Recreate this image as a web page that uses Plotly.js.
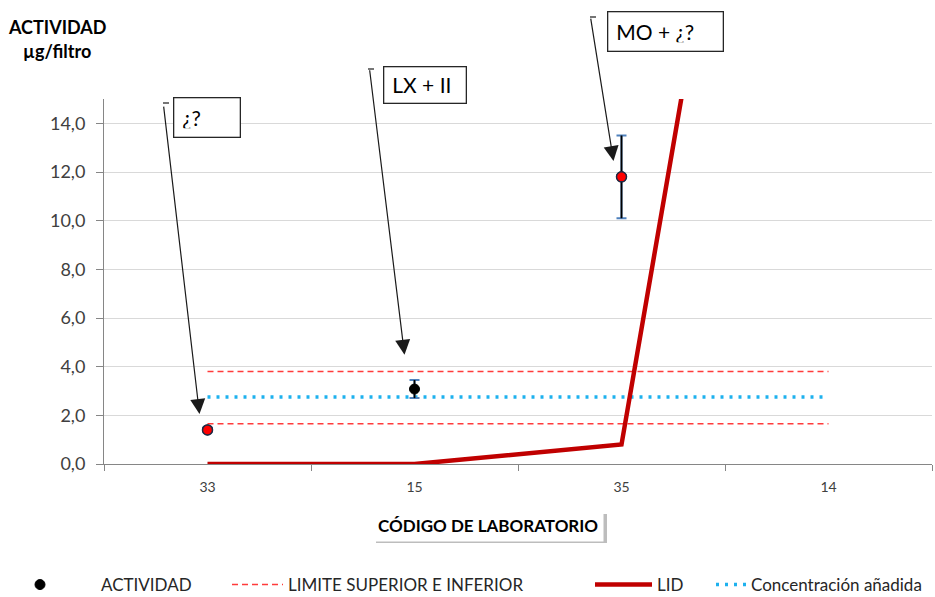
<!DOCTYPE html>
<html><head><meta charset="utf-8">
<script src="https://cdn.plot.ly/plotly-3.0.1.min.js"></script>
<style>body{margin:0;background:#fff}#chart{width:935px;height:597px}</style>
</head><body><div id="chart"></div>
<script>
// ---- data ----
const categories = ['33', '15', '35', '14'];
const actividad = [1.4, 3.08, 11.8, null];
const errorActividad = [0.1, 0.37, 1.7, null];
const limiteSuperior = [3.8, 3.8, 3.8, 3.8];
const limiteInferior = [1.65, 1.65, 1.65, 1.65];
const concentracion = [2.75, 2.75, 2.75, 2.75];
const lid = [0, 0, 0.8, 50];
const yTicks = [0, 2, 4, 6, 8, 10, 12, 14];
const seriesNames = ['ACTIVIDAD', 'LIMITE SUPERIOR E INFERIOR', 'LID', 'Concentración añadida'];
const notes = ['¿?', 'LX + II', 'MO + ¿?'];
const noteTargets = [['33', 2.05], ['15', 4.49], ['35', 12.45]];
const yTitle = ['ACTIVIDAD', 'µg/filtro'];
const xTitle = 'CÓDIGO DE LABORATORIO';

// ---- geometry helpers (layout only) ----
const W = 935, H = 597;
const M = {l: 104, r: 3, t: 99, b: 133, autoexpand: false};
const PW = W - M.l - M.r, PH = H - M.t - M.b;
const px = x => (x - M.l) / PW;
const py = y => (H - M.b - y) / PH;
const FONT = 'Lato, "Open Sans", sans-serif';

// points outside the limits are drawn red
const fuera = actividad.map((v, i) => (v != null && (v < limiteInferior[i] || v > limiteSuperior[i])) ? v : null);

const traces = [
  { // limits (upper + lower in one trace)
    x: categories.concat([null], categories),
    y: limiteSuperior.concat([null], limiteInferior),
    type: 'scatter', mode: 'lines', name: seriesNames[1], legend: 'legend2',
    connectgaps: false,
    line: {color: '#FF3B3B', width: 1.5, dash: '6px,4px'}
  },
  {
    x: categories, y: concentracion, type: 'scatter', mode: 'lines',
    name: seriesNames[3], legend: 'legend4',
    line: {color: '#1EB1EE', width: 3.5, dash: '3px,6px'}
  },
  {
    x: categories, y: lid, type: 'scatter', mode: 'lines',
    name: seriesNames[2], legend: 'legend3',
    line: {color: '#C00000', width: 4.5}
  },
  { // blue caps of the error bars
    x: categories, y: actividad, type: 'scatter', mode: 'markers', showlegend: false,
    marker: {size: 1, opacity: 0},
    error_y: {type: 'data', array: errorActividad, visible: true, color: '#4F81BD', thickness: 2, width: 5}
  },
  { // black stem of the error bars
    x: categories, y: actividad, type: 'scatter', mode: 'markers', showlegend: false,
    marker: {size: 1, opacity: 0},
    error_y: {type: 'data', array: errorActividad, visible: true, color: '#000000', thickness: 1.8, width: 0}
  },
  {
    x: categories, y: actividad, type: 'scatter', mode: 'markers',
    name: seriesNames[0], legend: 'legend',
    marker: {size: 10, color: '#000000', line: {color: '#000000', width: 1}}
  },
  {
    x: categories, y: fuera, type: 'scatter', mode: 'markers', showlegend: false,
    marker: {size: 10, color: '#FF0000', line: {color: '#1F2A44', width: 1.5}}
  }
];

const annotations = [];
// Y title (top-left)
annotations.push({xref: 'paper', yref: 'paper', x: px(57), y: py(27), xanchor: 'center', yanchor: 'middle',
  text: '<b>' + yTitle[0] + '</b>', showarrow: false, font: {family: FONT, size: 18, color: '#000'}});
annotations.push({xref: 'paper', yref: 'paper', x: px(57), y: py(51), xanchor: 'center', yanchor: 'middle',
  text: '<b>' + yTitle[1] + '</b>', showarrow: false, font: {family: FONT, size: 18, color: '#000'}});
// X title with white box
annotations.push({xref: 'paper', yref: 'paper', x: px(488), y: py(525), xanchor: 'center', yanchor: 'middle',
  text: '<b>' + xTitle + '</b>', showarrow: false, bgcolor: '#FFFFFF', borderpad: 5,
  font: {family: FONT, size: 17, color: '#000'}});

// note boxes
const boxes = [[173, 97, 241, 138], [383, 66, 467, 104], [607, 11, 724, 52]];
boxes.forEach((b, i) => {
  annotations.push({xref: 'paper', yref: 'paper', x: px(b[0]), y: py(b[1]), xanchor: 'left', yanchor: 'top',
    text: notes[i], showarrow: false, align: 'left', valign: 'middle',
    width: b[2] - b[0] - 19, height: b[3] - b[1] - 19, borderpad: 8, borderwidth: 1.3, bordercolor: '#262626',
    bgcolor: '#FFFFFF', font: {family: FONT, size: 21, color: '#000'}});
});
// arrows (head on category index of the target, small pixel shift to the left)
const arrowShift = [-8, -10, -8];
const arrowTail = [[-36, -309], [-35, -286], [-23, -144]];
noteTargets.forEach((t, i) => {
  annotations.push({x: categories.indexOf(t[0]), y: t[1], xref: 'x', yref: 'y', xshift: arrowShift[i], text: '',
    showarrow: true, arrowhead: 2, arrowsize: 2.5, arrowwidth: 1.2, arrowcolor: '#1a1a1a',
    axref: 'pixel', ayref: 'pixel', ax: arrowTail[i][0], ay: arrowTail[i][1], standoff: 0});
});

const shapes = [
  // shadow of the x title box
  {type: 'rect', xref: 'paper', yref: 'paper', x0: px(376), x1: px(607), y0: py(514), y1: py(543),
   fillcolor: '#BDBDBD', line: {width: 0}, layer: 'above'},
  // small hooks on the arrow tails
  {type: 'line', xref: 'paper', yref: 'paper', x0: px(163), x1: px(169), y0: py(103), y1: py(103), line: {color: '#1a1a1a', width: 1.2}},
  {type: 'line', xref: 'paper', yref: 'paper', x0: px(368), x1: px(374), y0: py(69), y1: py(69), line: {color: '#1a1a1a', width: 1.2}},
  {type: 'line', xref: 'paper', yref: 'paper', x0: px(590), x1: px(596), y0: py(17), y1: py(17), line: {color: '#1a1a1a', width: 1.2}}
];

const legFont = {family: FONT, size: 17, color: '#262626'};
const leg = (x, w) => ({orientation: 'h', x: px(x), y: py(585), xanchor: 'left', yanchor: 'middle',
  font: legFont, itemwidth: w, bgcolor: 'rgba(0,0,0,0)', borderwidth: 0});

const layout = {
  width: W, height: H, margin: M,
  paper_bgcolor: '#FFFFFF', plot_bgcolor: '#FFFFFF',
  separators: ',.',
  font: {family: FONT, color: '#404040'},
  showlegend: true,
  legend: leg(-21, 112),
  legend2: leg(227, 51),
  legend3: leg(590, 57),
  legend4: leg(711, 30),
  xaxis: {type: 'category', categoryorder: 'array', categoryarray: categories, range: [-0.5, 3.5],
    tickson: 'boundaries', ticks: 'outside', ticklen: 6, tickcolor: '#868686', showline: true,
    linecolor: '#868686', linewidth: 1, showgrid: false, zeroline: false, ticklabelstandoff: 10,
    tickfont: {family: FONT, size: 14, color: '#404040'}},
  yaxis: {range: [0, 15], tickvals: yTicks, tickformat: '.1f', ticks: 'outside', ticklen: 7,
    tickcolor: '#868686', showline: true, linecolor: '#868686', linewidth: 1,
    gridcolor: '#D9D9D9', gridwidth: 1, zeroline: false, ticklabelstandoff: 7,
    tickfont: {family: FONT, size: 18, color: '#404040'}},
  annotations: annotations,
  shapes: shapes
};

Plotly.newPlot('chart', traces, layout, {displayModeBar: false, staticPlot: true});
</script>
</body></html>
